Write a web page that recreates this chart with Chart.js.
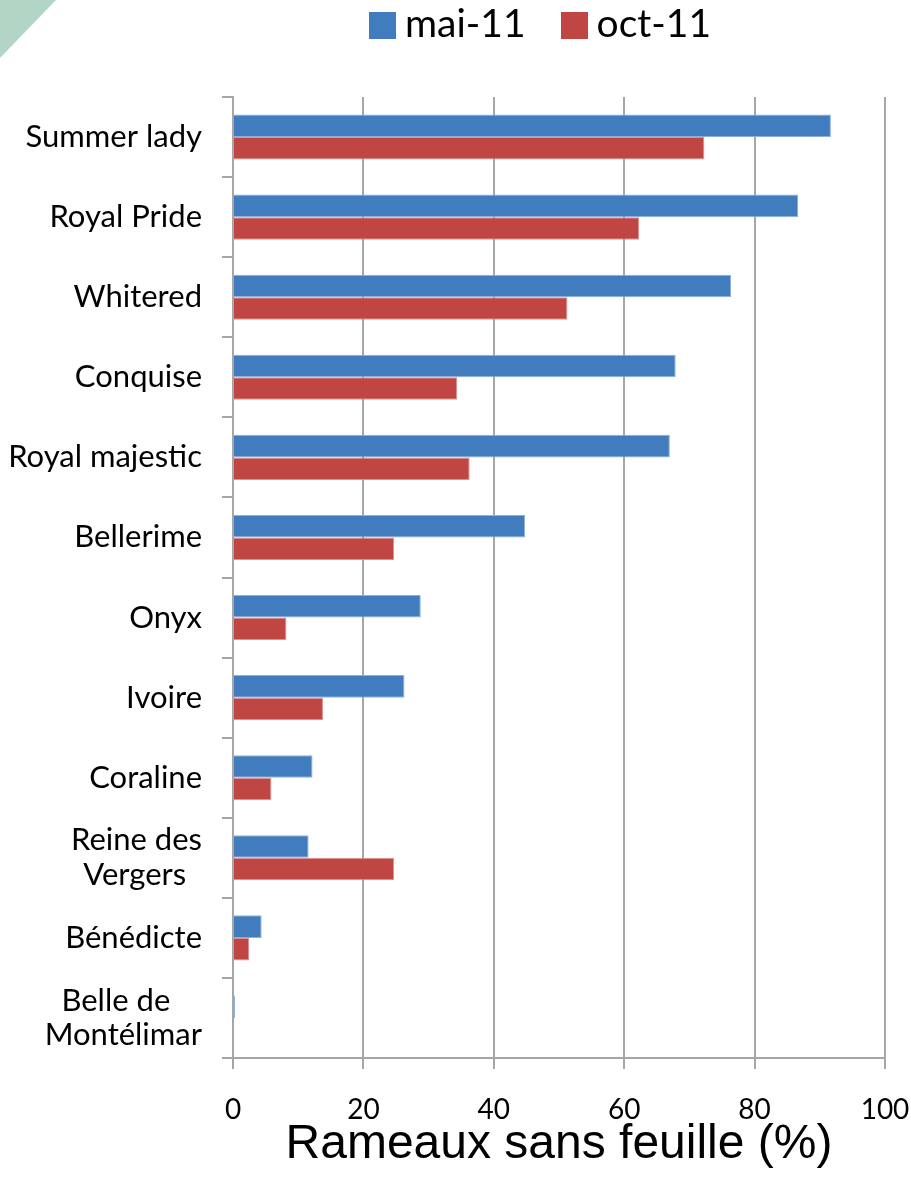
<!DOCTYPE html>
<html>
<head>
<meta charset="utf-8">
<script src="https://cdn.jsdelivr.net/npm/chart.js@4.4.1/dist/chart.umd.min.js"></script>
<style>
  html, body { margin: 0; padding: 0; background: #fff; }
  #wrap { position: relative; width: 911px; height: 1179px; overflow: hidden; }
  #corner { position: absolute; left: 0; top: 0; width: 56px; height: 58px; background: #b3d5c6; clip-path: polygon(0 0, 100% 0, 0 100%); }
  #legend { position: absolute; left: 369px; top: 0; display: flex; align-items: flex-start; font-family: Lato, "Open Sans", sans-serif; font-size: 39px; color: #000; }
  .item { display: flex; align-items: flex-start; margin-right: 35px; }
  .box { width: 27px; height: 27px; margin-top: 12px; margin-right: 9px; }
  .txt { line-height: 46px; margin-top: -1px; }
  canvas { position: absolute; left: 0; top: 0; }
</style>
</head>
<body>
<div id="wrap">
  <div id="corner"></div>
  <canvas id="c" width="911" height="1179"></canvas>
  <div id="legend"></div>
</div>
<script>
const categories = [
  'Summer lady',
  'Royal Pride',
  'Whitered',
  'Conquise',
  'Royal majestic',
  'Bellerime',
  'Onyx',
  'Ivoire',
  'Coraline',
  ['Reine des', 'Vergers\u00a0\u00a0'],
  'Bénédicte',
  ['Belle de\u00a0\u00a0\u00a0\u00a0', 'Montélimar']
];
const seriesNames = ['mai-11', 'oct-11'];
const mai11 = [91.7, 86.7, 76.4, 67.9, 67.0, 44.8, 28.8, 26.3, 12.2, 11.6, 4.4, 0.3];
const oct11 = [72.3, 62.3, 51.3, 34.4, 36.3, 24.7, 8.2, 13.8, 5.9, 24.7, 2.5, 0];
const xTicks = [0, 20, 40, 60, 80, 100];
const axisTitle = 'Rameaux sans feuille (%)';

const colors = ['#407CBE', '#C04644'];
const borders = ['#8DB0DA', '#DB9392'];
const gridColor = '#a6a6a6';

const data = {
  labels: categories,
  datasets: [
    { label: seriesNames[0], data: mai11, backgroundColor: colors[0], borderColor: borders[0], borderWidth: 1, categoryPercentage: 0.5625, barPercentage: 1 },
    { label: seriesNames[1], data: oct11, backgroundColor: colors[1], borderColor: borders[1], borderWidth: 1, categoryPercentage: 0.5625, barPercentage: 1 }
  ]
};

function build() {
  const chart = new Chart(document.getElementById('c'), {
    type: 'bar',
    data: data,
    options: {
      indexAxis: 'y',
      responsive: false,
      animation: false,
      layout: { padding: { top: 97, left: 0, right: 26, bottom: 10 } },
      plugins: { legend: { display: false }, tooltip: { enabled: false } },
      scales: {
        x: {
          min: 0, max: 100,
          afterBuildTicks: (s) => { s.ticks = xTicks.map(v => ({ value: v })); },
          afterFit: (s) => { s.height = 111; s.paddingLeft = 0; s.paddingRight = 0; },
          grid: { color: gridColor, lineWidth: 2, drawTicks: true, tickLength: 11, tickColor: gridColor },
          border: { display: true, color: gridColor, width: 2 },
          ticks: { color: '#000', font: { family: 'Lato', size: 28 }, padding: 24, maxRotation: 0 },
          title: { display: true, text: axisTitle, color: '#000', font: { family: '"Liberation Sans", Arial, sans-serif', size: 48, lineHeight: 1 }, padding: { top: 0, bottom: 0 } }
        },
        y: {
          afterFit: (s) => { s.width = 233; s.paddingTop = 0; s.paddingBottom = 0; },
          grid: { drawOnChartArea: false, drawTicks: true, tickLength: 11, color: gridColor, lineWidth: 2, offset: true },
          border: { display: true, color: gridColor, width: 2 },
          ticks: { color: '#000', font: { family: 'Lato', size: 31, lineHeight: 1.12 }, padding: 20, autoSkip: false }
        }
      }
    }
  });
  const lg = document.getElementById('legend');
  chart.data.datasets.forEach((ds) => {
    const it = document.createElement('div'); it.className = 'item';
    const b = document.createElement('div'); b.className = 'box'; b.style.background = ds.backgroundColor;
    const t = document.createElement('div'); t.className = 'txt'; t.textContent = ds.label;
    it.appendChild(b); it.appendChild(t); lg.appendChild(it);
  });
}
Promise.all([
  document.fonts.load('30px Lato'),
  document.fonts.load('48px "Liberation Sans"')
]).then(build, build);
</script>
</body>
</html>
